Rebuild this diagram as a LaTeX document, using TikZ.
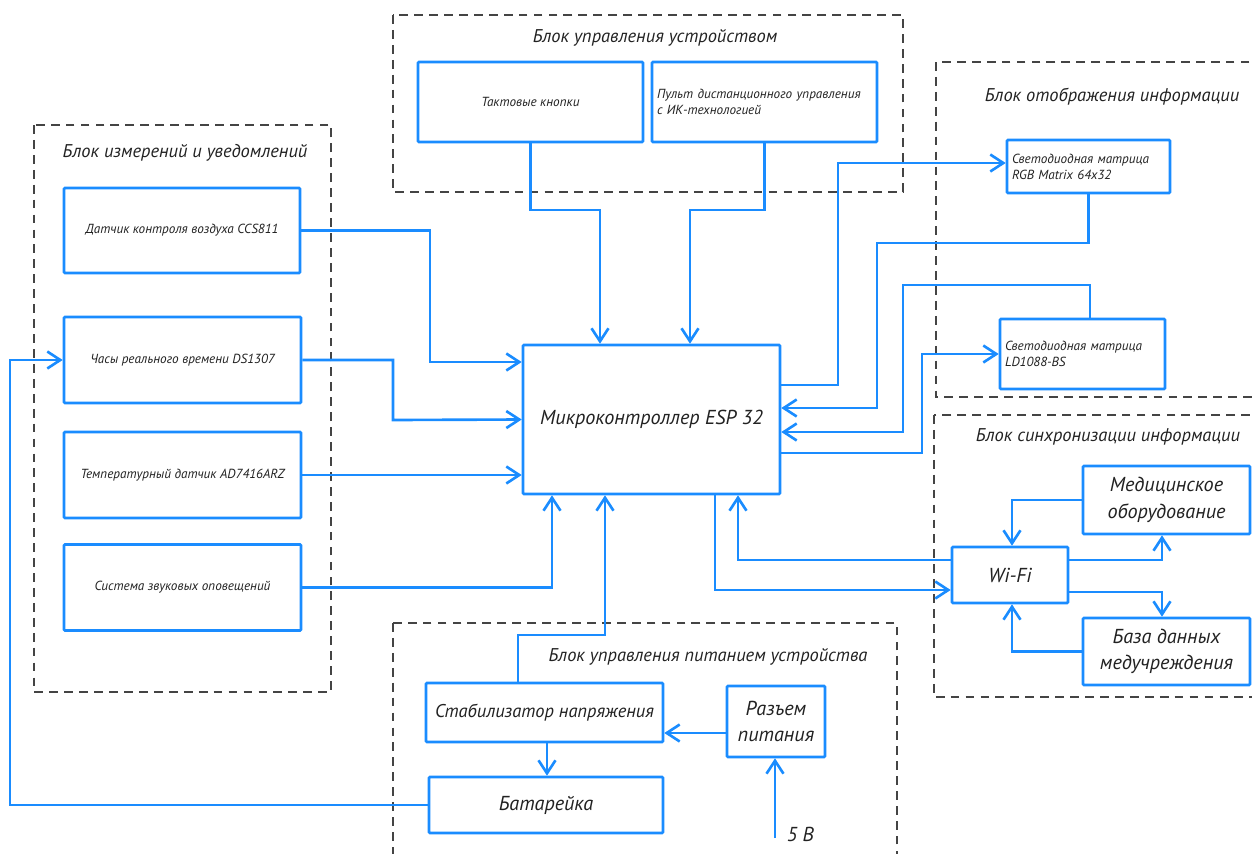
\documentclass[tikz,border=0pt]{standalone}
\usepackage{fontspec}
\setmainfont{PT Sans}
\usepackage{xcolor}
\usepackage{tikz}
\usetikzlibrary{arrows.meta,positioning}
\definecolor{lineblue}{HTML}{1A8CFF}
\definecolor{framegray}{HTML}{444444}
\definecolor{inkgray}{HTML}{222222}
\tikzset{
  blocknode/.style={
    rectangle, draw=lineblue, line width=1.5pt, rounded corners=0.5pt,
    fill=white, align=center, text=inkgray, inner sep=2pt,
    font=\itshape\fontsize{7.5}{9}\selectfont
  },
  bignode/.style={blocknode, font=\itshape\fontsize{11.5}{15}\selectfont},
  blockarrow/.style={-{Straight Barb[length=2.6mm,width=3.4mm]}, line width=1.5pt, color=lineblue},
  groupframe/.style={draw=framegray, line width=0.8pt, dash pattern=on 5pt off 3.5pt},
  grouplabel/.style={text=inkgray, font=\itshape\fontsize{10.5}{12}\selectfont},
}

\begin{document}
\begin{tikzpicture}[x=0.02cm, y=-0.02cm]
  \useasboundingbox (0,0) rectangle (1252,853);

  % dashed frames of the blocks
  \draw[groupframe] (393,15) rectangle (903,192);
  \draw[groupframe] (34,125) rectangle (331,692);
  \draw[groupframe] (936,62) rectangle (1258,397);
  \draw[groupframe] (934,415) rectangle (1258,697);
  \draw[groupframe] (393,623) rectangle (897,870);
  \node[grouplabel] (gctl) at (655,38) {Блок управления устройством};
  \node[grouplabel] (gmeas) at (185,153) {Блок измерений и уведомлений};
  \node[grouplabel] (gdisp) at (1112,97) {Блок отображения информации};
  \node[grouplabel] (gsync) at (1108,437) {Блок синхронизации информации};
  \node[grouplabel] (gpwr) at (708,657) {Блок управления питанием устройства};

  % blocks
  \node[blocknode, minimum width=4.5cm, minimum height=1.6cm] (knopki) at (530.5,102) {Тактовые кнопки};
  \node[blocknode, minimum width=4.5cm, minimum height=1.6cm, text width=4.3cm, align=left] (pult) at (764.5,102)
    {Пульт дистанционного управления\\с ИК-технологией};
  \node[blocknode, minimum width=4.72cm, minimum height=1.7cm] (ccs) at (182,230.5) {Датчик контроля воздуха CCS811};
  \node[blocknode, minimum width=4.74cm, minimum height=1.72cm] (rtc) at (182.5,360) {Часы реального времени DS1307};
  \node[blocknode, minimum width=4.74cm, minimum height=1.72cm] (temp) at (182.5,475) {Температурный датчик AD7416ARZ};
  \node[blocknode, minimum width=4.74cm, minimum height=1.72cm] (sound) at (182.5,587.5) {Система звуковых оповещений};
  \node[bignode, minimum width=5.14cm, minimum height=2.98cm] (mcu) at (651.5,419.5) {Микроконтроллер ESP 32};
  \node[blocknode, minimum width=3.26cm, minimum height=1.06cm, text width=3.06cm, align=left] (rgb) at (1088.5,166.5)
    {Светодиодная матрица\\RGB Matrix 64x32};
  \node[blocknode, minimum width=3.3cm, minimum height=1.4cm, text width=3.1cm, align=left] (ld) at (1082.5,354)
    {Светодиодная матрица\\LD1088-BS};
  \node[bignode, minimum width=3.34cm, minimum height=1.36cm] (med) at (1166.5,500) {Медицинское\\оборудование};
  \node[bignode, minimum width=2.32cm, minimum height=1.12cm] (wifi) at (1010,575) {Wi-Fi};
  \node[bignode, minimum width=3.34cm, minimum height=1.34cm] (db) at (1166.5,651.5) {База данных\\медучреждения};
  \node[bignode, minimum width=4.74cm, minimum height=1.18cm, font=\itshape\fontsize{10.5}{14}\selectfont] (stab) at (544.5,712.5) {Стабилизатор напряжения};
  \node[bignode, minimum width=1.96cm, minimum height=1.42cm] (razem) at (776,721.5) {Разъем\\питания};
  \node[bignode, minimum width=4.68cm, minimum height=1.12cm] (bat) at (546,805) {Батарейка};
  \coordinate (vin) at (775,838);
  \node[bignode, draw=none, fill=none, anchor=west] (vlabel) at (782,834) {5 В};

  % connections
  \draw[blockarrow] (ccs.east) -| (430,362) -- (430,362 -| mcu.west);
  \draw[blockarrow] (rtc.east) -| (393,420) -- (mcu.west);
  \draw[blockarrow] (temp.east) -- (temp.east -| mcu.west);
  \draw[blockarrow] (sound.east) -| (552,0 |- mcu.south);
  \draw[blockarrow] (knopki.south) |- (600,210) -- (600,0 |- mcu.north);
  \draw[blockarrow] (pult.south) |- (690,210) -- (690,0 |- mcu.north);
  \draw[blockarrow] (mcu.east |- 0,385) -| (838,163) -- (838,163 -| rgb.west);
  \draw[blockarrow] (rgb.south) |- (877,243) |- (mcu.east |- 0,408);
  \draw[blockarrow] (1090,0 |- ld.north) |- (903,285) |- (mcu.east |- 0,432);
  \draw[blockarrow] (mcu.east |- 0,453) -| (922,354) -- (ld.west);
  \draw[blockarrow] (715,0 |- mcu.south) |- (wifi.west |- 0,590);
  \draw[blockarrow] (wifi.west |- 0,560) -| (738,0 |- mcu.south);
  \draw[blockarrow] (med.west) -| (1012,0 |- wifi.north);
  \draw[blockarrow] (wifi.east |- 0,560) -| (1162,0 |- med.south);
  \draw[blockarrow] (wifi.east |- 0,592) -| (1162,0 |- db.north);
  \draw[blockarrow] (db.west) -| (1012,0 |- wifi.south);
  \draw[blockarrow] (518,0 |- stab.north) |- (605,635) -- (605,0 |- mcu.south);
  \draw[blockarrow] (razem.west |- 0,733) -- (stab.east |- 0,733);
  \draw[blockarrow] (547,0 |- stab.south) -- (547,0 |- bat.north);
  \draw[blockarrow] (bat.west) -| (10,360) -- (rtc.west);
  \draw[blockarrow] (vin) -- (vin |- razem.south);
\end{tikzpicture}
\end{document}
